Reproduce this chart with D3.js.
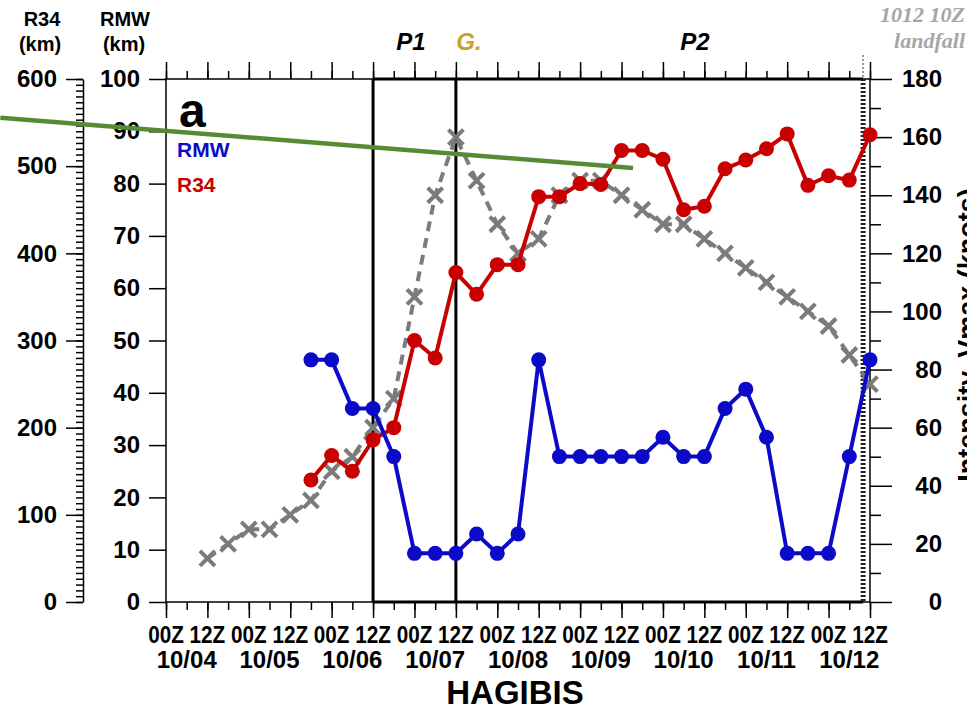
<!DOCTYPE html>
<html>
<head>
<meta charset="utf-8">
<script src="https://cdn.jsdelivr.net/npm/d3@7/dist/d3.min.js"></script>
<style>
  body { margin: 0; background: #fff; }
  svg { display: block; font-family: "Liberation Sans", Arial, Helvetica, sans-serif; }
  .axis path, .axis line { stroke: #000; stroke-width: 1.5; }
  .axis text { font-size: 24px; font-weight: bold; fill: #000; }
</style>
</head>
<body>
<svg id="chart" width="967" height="710"></svg>
<script>
// 6-hourly track values, HAGIBIS (2019)
const vmaxStart = '2019-10-04T12:00Z';
const vmax = [15, 20, 25, 25, 30, 35, 45, 50, 60, 70, 105, 140, 160, 145, 130, 120, 125,
  140, 145, 145, 140, 135, 130, 130, 125, 120, 115, 110, 105, 100, 95, 85, 75];

const radiusStart = '2019-10-05T18:00Z';
const rmw = [46.3, 46.3, 37.0, 37.0, 27.8, 9.3, 9.3, 9.3, 13.0, 9.3, 13.0, 46.3, 27.8, 27.8,
  27.8, 27.8, 27.8, 31.5, 27.8, 27.8, 37.0, 40.7, 31.5, 9.3, 9.3, 9.3, 27.8, 46.3];
const r34 = [140, 168, 150, 186, 200, 300, 280, 378, 353, 387, 387, 465, 465, 480, 479, 518,
  518, 508, 450, 454, 497, 507, 520, 537, 478, 489, 484, 536];

const timeRange = ['2019-10-04T00:00Z', '2019-10-12T12:00Z'];
const p1Time = '2019-10-06T12:00Z';
const gTime = '2019-10-07T12:00Z';
const landfallTime = '2019-10-12T10:00Z';
const dateLabels = ['10/04', '10/05', '10/06', '10/07', '10/08', '10/09', '10/10', '10/11', '10/12'];
const r34Ticks = d3.range(0, 601, 100);
const rmwTicks = d3.range(0, 101, 10);
const vmaxTicks = d3.range(0, 181, 20);
// hand-drawn trend stroke, in time / RMW units
const trendLine = [['2019-10-02T00:00Z', 92.6], ['2019-10-09T15:20Z', 83]];

const W = 967, H = 710;
const plotL = 166, plotR = 870, plotT = 79, plotB = 602;

const svg = d3.select('#chart');
svg.append('rect').attr('width', W).attr('height', H).attr('fill', '#fff');

const x = d3.scaleUtc().domain(timeRange.map(d => new Date(d))).range([plotL, plotR]);
const yRmw = d3.scaleLinear().domain([0, 100]).range([plotB, plotT]);
const yR34 = d3.scaleLinear().domain([0, 600]).range([plotB, plotT]);
const yVmax = d3.scaleLinear().domain([0, 180]).range([plotB, plotT]);

const series = (start, values) =>
  values.map((v, i) => ({ t: d3.utcHour.offset(new Date(start), 6 * i), v }));

const major = d3.utcHour.every(12).range(x.domain()[0], d3.utcHour.offset(x.domain()[1], 1));
const minor = d3.utcHour.every(6).range(x.domain()[0], d3.utcHour.offset(x.domain()[1], 1));

// ── frame & time axes ──
svg.append('rect')
  .attr('x', plotL).attr('y', plotT).attr('width', plotR - plotL).attr('height', plotB - plotT)
  .attr('fill', 'none').attr('stroke', '#000').attr('stroke-width', 1.5);

function tickRow(axisFn, y, values, size) {
  const g = svg.append('g').attr('class', 'axis').attr('transform', `translate(0,${y})`)
    .call(axisFn(x).tickValues(values).tickSize(size).tickFormat('').tickSizeOuter(0));
  g.select('.domain').remove();
}
tickRow(d3.axisBottom, plotB, minor, 8);
tickRow(d3.axisBottom, plotB, major, 16);
tickRow(d3.axisTop, plotT, minor, 8);
tickRow(d3.axisTop, plotT, major, 17);

// hour labels + date labels under the bottom axis
const hourLabels = svg.append('g').attr('font-size', 23).attr('font-weight', 'bold')
  .attr('text-anchor', 'middle');
hourLabels.selectAll('text.hr').data(major).join('text')
  .attr('class', 'hr')
  .attr('transform', d => `translate(${x(d)},643) scale(0.9,1)`)
  .text(d => d3.utcFormat('%HZ')(d));

hourLabels.selectAll('text.date').data(dateLabels).join('text')
  .attr('class', 'date')
  .attr('font-size', 24)
  .attr('x', (d, i) => x(d3.utcHour.offset(new Date(timeRange[0]), 24 * i + 6)))
  .attr('y', 668)
  .text(d => d);

svg.append('text')
  .attr('x', 515).attr('y', 704).attr('text-anchor', 'middle')
  .attr('font-size', 33).attr('font-weight', 'bold').text('HAGIBIS');

// ── left axes: R34 (outer) and RMW (frame) ──
const r34Minor = svg.append('g').attr('class', 'axis').attr('transform', 'translate(83,0)')
  .call(d3.axisLeft(yR34).tickValues(d3.range(0, 600.01, 100 / 15)).tickSize(7).tickFormat('').tickSizeOuter(0));
r34Minor.select('.domain').remove();
svg.append('g').attr('class', 'axis').attr('transform', 'translate(83,0)')
  .call(d3.axisLeft(yR34).tickValues(r34Ticks).tickSize(17).tickPadding(9).tickSizeOuter(0));

const rmwAxis = svg.append('g').attr('class', 'axis').attr('transform', `translate(${plotL},0)`)
  .call(d3.axisLeft(yRmw).tickValues(rmwTicks).tickSize(17).tickPadding(9).tickSizeOuter(0));
rmwAxis.select('.domain').remove();

// ── right axis: Vmax ──
const vMinor = svg.append('g').attr('class', 'axis').attr('transform', `translate(${plotR},0)`)
  .call(d3.axisRight(yVmax).tickValues(d3.range(10, 180, 20)).tickSize(11).tickFormat('').tickSizeOuter(0));
vMinor.select('.domain').remove();
const vAxis = svg.append('g').attr('class', 'axis').attr('transform', `translate(${plotR},0)`)
  .call(d3.axisRight(yVmax).tickValues(vmaxTicks).tickSize(22).tickPadding(6).tickSizeOuter(0));
vAxis.select('.domain').remove();
vAxis.selectAll('text').attr('text-anchor', 'end').attr('x', 72);

// the page edge trims this title, as in the printed figure
svg.append('text')
  .attr('transform', `translate(977,335) rotate(-90)`)
  .attr('text-anchor', 'middle').attr('font-size', 27).attr('font-weight', 'bold')
  .text('Intensity, Vmax (knots)');

// axis titles
const titles = svg.append('g').attr('font-size', 20).attr('font-weight', 'bold').attr('text-anchor', 'middle');
titles.append('text').attr('x', 42).attr('y', 26).text('R34');
titles.append('text').attr('x', 40).attr('y', 51).text('(km)');
titles.append('text').attr('x', 125).attr('y', 26).text('RMW');
titles.append('text').attr('x', 124).attr('y', 51).text('(km)');

// ── period markers ──
const xp1 = x(new Date(p1Time)), xg = x(new Date(gTime)), xl = x(new Date(landfallTime));
const marks = svg.append('g').attr('stroke', '#000').attr('stroke-width', 3);
marks.append('line').attr('x1', xp1).attr('x2', xp1).attr('y1', plotT).attr('y2', plotB);
marks.append('line').attr('x1', xg).attr('x2', xg).attr('y1', plotT).attr('y2', plotB);
marks.append('line').attr('x1', xp1).attr('x2', xl).attr('y1', plotT).attr('y2', plotT);
marks.append('line').attr('x1', xp1).attr('x2', xl).attr('y1', plotB).attr('y2', plotB);

svg.append('line').attr('x1', xl).attr('x2', xl).attr('y1', plotT).attr('y2', plotB)
  .attr('stroke', '#222').attr('stroke-width', 5).attr('stroke-dasharray', '2 2');
svg.append('line').attr('x1', xl).attr('x2', xl).attr('y1', 55).attr('y2', plotT)
  .attr('stroke', '#999').attr('stroke-width', 2).attr('stroke-dasharray', '2 2');

const tops = svg.append('g').attr('font-size', 24).attr('font-weight', 'bold').attr('font-style', 'italic')
  .attr('text-anchor', 'middle');
tops.append('text').attr('x', 411).attr('y', 50).text('P1');
tops.append('text').attr('x', 469).attr('y', 50).attr('fill', '#c9a227').text('G.');
tops.append('text').attr('x', 695).attr('y', 50).text('P2');

const lf = svg.append('g').attr('font-family', '"Liberation Serif", "DejaVu Serif", serif')
  .attr('font-size', 22).attr('font-weight', 'bold').attr('font-style', 'italic')
  .attr('fill', '#a6a6a6').attr('text-anchor', 'end');
lf.append('text').attr('x', 965).attr('y', 22).text('1012 10Z');
lf.append('text').attr('x', 965).attr('y', 48).text('landfall');

// ── Vmax: dashed gray with crosses ──
const vData = series(vmaxStart, vmax);
svg.append('path').datum(vData)
  .attr('fill', 'none').attr('stroke', '#7b7b7b').attr('stroke-width', 4)
  .attr('stroke-dasharray', '10 7')
  .attr('d', d3.line().x(d => x(d.t)).y(d => yVmax(d.v)));
svg.append('g').selectAll('path').data(vData).join('path')
  .attr('transform', d => `translate(${x(d.t)},${yVmax(d.v)})`)
  .attr('d', 'M-7.5,-7.5L7.5,7.5M-7.5,7.5L7.5,-7.5')
  .attr('stroke', '#7b7b7b').attr('stroke-width', 4);

// ── RMW and R34 lines with dots ──
function drawSeries(values, y, color) {
  const data = series(radiusStart, values);
  svg.append('path').datum(data)
    .attr('fill', 'none').attr('stroke', color).attr('stroke-width', 4)
    .attr('d', d3.line().x(d => x(d.t)).y(d => y(d.v)));
  svg.append('g').selectAll('circle').data(data).join('circle')
    .attr('cx', d => x(d.t)).attr('cy', d => y(d.v)).attr('r', 7.5)
    .attr('fill', color);
}
drawSeries(r34, yR34, '#c80000');
drawSeries(rmw, yRmw, '#0a0ac8');

// panel letter and legend
svg.append('text').attr('x', 179).attr('y', 127).attr('font-size', 48).attr('font-weight', 'bold').text('a');
svg.append('text').attr('x', 177).attr('y', 157).attr('font-size', 21).attr('font-weight', 'bold')
  .attr('fill', '#0a0ac8').text('RMW');
svg.append('text').attr('x', 177).attr('y', 192).attr('font-size', 21).attr('font-weight', 'bold')
  .attr('fill', '#c80000').text('R34');

// trend stroke on top
svg.append('line')
  .attr('x1', x(new Date(trendLine[0][0]))).attr('y1', yRmw(trendLine[0][1]))
  .attr('x2', x(new Date(trendLine[1][0]))).attr('y2', yRmw(trendLine[1][1]))
  .attr('stroke', '#558b32').attr('stroke-width', 4.5);
</script>
</body>
</html>
